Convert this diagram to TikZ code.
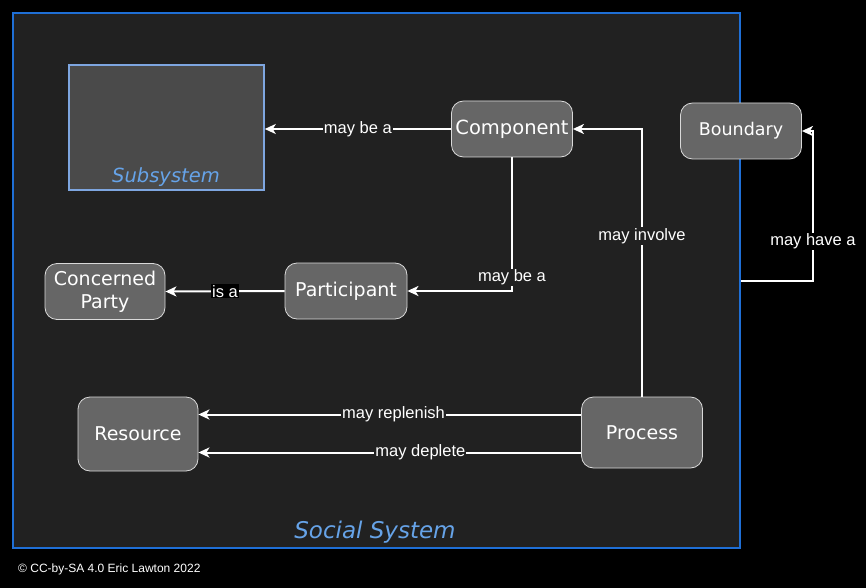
\documentclass[tikz,border=0pt]{standalone}
\usepackage{fontspec}
\setmainfont{DejaVu Sans}
\newfontfamily\arialfont{Liberation Sans}
\usetikzlibrary{arrows.meta}

\definecolor{bgdark}{HTML}{212121}
\definecolor{boxgray}{HTML}{666666}
\definecolor{subgray}{HTML}{4A4A4A}
\definecolor{sysblue}{HTML}{1F6FD6}
\definecolor{subblue}{HTML}{7EA6E0}
\definecolor{txtblue}{HTML}{66A3E8}

\tikzset{
  concept/.style={draw=white!85!black, fill=boxgray, rounded corners=12pt, text=white, line width=0.8pt,
    minimum width=120pt, minimum height=56pt, inner sep=2pt, align=center, font=\fontsize{19}{23}\selectfont},
  rel/.style={draw=white, line width=2pt, -{Stealth[length=11pt,width=10pt,inset=3pt]}},
  lbl/.style={fill=bgdark, text=white, inner sep=1pt, font=\arialfont\fontsize{16.5}{18}\selectfont},
}

\begin{document}
\begin{tikzpicture}[x=1pt, y=-1pt]
            \fill[black] (0,0) rectangle (866,588);
            \useasboundingbox (0,0) rectangle (866,588);
            % the social system and the subsystem
            \node[draw=sysblue, fill=bgdark, line width=2pt, minimum width=727pt, minimum height=535pt, inner sep=0pt] (social) at (376.5,280.5) {};
            \node[text=txtblue, font=\itshape\fontsize{23}{27}\selectfont] (sociallbl) at (375,532) {Social System};
            \node[draw=subblue, fill=subgray, line width=1.5pt, minimum width=195pt, minimum height=125pt, inner sep=0pt] (sub) at (166.5,127.5) {};
            \node[text=txtblue, font=\itshape\fontsize{19.5}{23}\selectfont] (sublbl) at (166,177) {Subsystem};
            % concepts
            \node[concept, minimum width=121pt, font=\fontsize{19.5}{23}\selectfont] (comp) at (512,129) {Component};
            \node[concept, minimum width=121pt, font=\fontsize{17.5}{21}\selectfont] (bound) at (741,131) {Boundary};
            \node[concept, minimum width=122pt] (part) at (346,291) {Participant};
            \node[concept] (party) at (105,291.5) {Concerned\\Party};
            \node[concept, minimum height=74pt] (res) at (138,434) {Resource};
            \node[concept, minimum width=121pt, minimum height=71pt] (proc) at (642,432.5) {Process};
            % relations
            \draw[rel] (comp.west) -- node[lbl]{may be a} (comp.west -| sub.east);
            \draw[rel] (comp.south) |- node[lbl, pos=0.45]{may be a} (part.east);
            \draw[rel] (proc.north) |- node[lbl, pos=0.30]{may involve} (comp.east);
            \draw[rel] (social.east) -| node[lbl, fill=black, pos=0.63]{may have a} ([xshift=11pt]bound.east) -- (bound.east);
            \draw[rel] (part.west) -- node[lbl, fill=black]{is a} (party.east);
            \coordinate (rep) at ([yshift=18pt]proc.west);
            \coordinate (dep) at ([yshift=-20pt]proc.west);
            \draw[rel] (rep) -- node[lbl, pos=0.49]{may replenish} (rep -| res.east);
            \draw[rel] (dep) -- node[lbl, pos=0.42]{may deplete} (dep -| res.east);
            \node[anchor=west, text=white, font=\arialfont\fontsize{12}{14}\selectfont, inner sep=0pt] (credit) at (18,569) {© CC-by-SA 4.0 Eric Lawton 2022};
\end{tikzpicture}
\end{document}
